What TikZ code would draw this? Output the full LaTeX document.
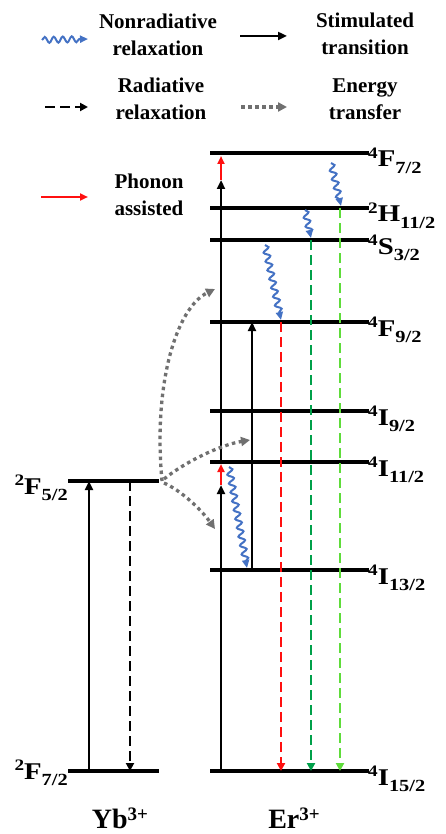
\documentclass[tikz,border=0pt]{standalone}
\usepackage{fontspec}
\setmainfont{Liberation Serif}
\usetikzlibrary{arrows.meta,decorations.pathmorphing}
\definecolor{WaveBlue}{HTML}{4472C4}
\definecolor{EmRed}{HTML}{FF1010}
\definecolor{EmGreen}{HTML}{00A04A}
\definecolor{EmLime}{HTML}{5EDC3A}
\definecolor{XferGray}{HTML}{707070}
\newcommand{\term}[3]{\scalebox{1.2}[1]{\raisebox{8.5pt}{\fontsize{16}{16}\selectfont #1}#2\raisebox{-6.5pt}{\fontsize{17}{17}\selectfont #3}}}
\newcommand{\ionname}[2]{#1\raisebox{8pt}{\fontsize{19}{19}\selectfont #2}}

\begin{document}
\begin{tikzpicture}[x=1pt,y=-1pt,
  level/.style={line width=4pt},
  stim/.style={-{Triangle[length=9pt,width=8pt]},line width=2.8pt},
  rad/.style={-{Triangle[length=8pt,width=8pt]},line width=2.8pt,dash pattern=on 10pt off 5pt},
  nonrad/.style={-{Triangle[length=8pt,width=7pt]},color=WaveBlue,line width=2pt,decorate,decoration={snake,amplitude=3pt,segment length=9pt,post length=5pt}},
  transfer/.style={-{Triangle[length=9pt,width=9pt]},color=XferGray,line width=3.3pt,dash pattern=on 3.5pt off 3.5pt},
  phonon/.style={-{Triangle[length=8pt,width=7pt]},color=EmRed,line width=2.4pt},
  lvllabel/.style={font=\fontsize{24}{28}\selectfont\bfseries,inner sep=0pt},
  legendtext/.style={font=\fontsize{21}{27}\selectfont\bfseries,align=center,inner sep=0pt},
  ionlabel/.style={font=\fontsize{28}{32}\selectfont\bfseries,inner sep=0pt}
]
\useasboundingbox (0,0) rectangle (445,834);
% legend
\coordinate (nrA) at (42,40);
\coordinate (nrB) at (88,39);
\coordinate (stA) at (240,36);
\coordinate (stB) at (287,36);
\coordinate (rdA) at (45,107);
\coordinate (rdB) at (88,107);
\coordinate (etA) at (241,107);
\coordinate (etB) at (287,107);
\coordinate (phA) at (41,197);
\coordinate (phB) at (88,197);
\draw[nonrad] (nrA) -- (nrB);
\draw[stim] (stA) -- (stB);
\draw[rad] (rdA) -- (rdB);
\draw[transfer] (etA) -- (etB);
\draw[phonon] (phA) -- (phB);
\node[legendtext] (nrText) at (158,35) {Nonradiative\\relaxation};
\node[legendtext] (stText) at (365,34) {Stimulated\\transition};
\node[legendtext] (rdText) at (161,99) {Radiative\\relaxation};
\node[legendtext] (etText) at (365,99) {Energy\\transfer};
\node[legendtext] (phText) at (149,195) {Phonon\\assisted};
% Yb levels
\coordinate (YbF52) at (68,481);
\coordinate (YbF72) at (68,771);
\draw[level] (YbF52) -- ++(91,0) coordinate (YbF52e);
\draw[level] (YbF72) -- ++(91,0);
\node[lvllabel,anchor=base east] (lbYb52) at (68,494) {\term{2}{F}{5/2}};
\node[lvllabel,anchor=base east] (lbYb72) at (68,779) {\term{2}{F}{7/2}};
% Er levels
\coordinate (ErF72) at (210,153);
\coordinate (ErH112) at (210,208);
\coordinate (ErS32) at (210,240);
\coordinate (ErF92) at (210,322);
\coordinate (ErI92) at (210,411);
\coordinate (ErI112) at (210,462);
\coordinate (ErI132) at (210,570);
\coordinate (ErI152) at (210,771);
\draw[level] (ErF72) -- ++(159,0);
\draw[level] (ErH112) -- ++(159,0);
\draw[level] (ErS32) -- ++(159,0);
\draw[level] (ErF92) -- ++(159,0);
\draw[level] (ErI92) -- ++(159,0);
\draw[level] (ErI112) -- ++(159,0);
\draw[level] (ErI132) -- ++(159,0);
\draw[level] (ErI152) -- ++(159,0);
\node[lvllabel,anchor=base west] (lbF72) at (368,167) {\term{4}{F}{7/2}};
\node[lvllabel,anchor=base west] (lbH112) at (368,222) {\term{2}{H}{11/2}};
\node[lvllabel,anchor=base west] (lbS32) at (368,254) {\term{4}{S}{3/2}};
\node[lvllabel,anchor=base west] (lbF92) at (368,336) {\term{4}{F}{9/2}};
\node[lvllabel,anchor=base west] (lbI92) at (368,425) {\term{4}{I}{9/2}};
\node[lvllabel,anchor=base west] (lbI112) at (368,476) {\term{4}{I}{11/2}};
\node[lvllabel,anchor=base west] (lbI132) at (368,584) {\term{4}{I}{13/2}};
\node[lvllabel,anchor=base west] (lbI152) at (368,785) {\term{4}{I}{15/2}};
% transitions
\coordinate (cYbUp) at (89,0);
\coordinate (cYbDown) at (130,0);
\coordinate (cEr1) at (221,0);
\coordinate (cEr2) at (252,0);
\coordinate (cRed) at (281,0);
\coordinate (cGreen) at (311,0);
\coordinate (cLime) at (340,0);
\coordinate (ph1a) at (221,485);
\coordinate (ph1b) at (221,464);
\coordinate (ph2a) at (221,180);
\coordinate (ph2b) at (221,156);
\draw[stim] (cYbUp |- YbF72) -- (cYbUp |- YbF52);
\draw[rad] (cYbDown |- YbF52) -- (cYbDown |- YbF72);
\draw[stim] (cEr1 |- ErI152) -- (ph1a);
\draw[phonon] (ph1a) -- (ph1b);
\draw[stim] (cEr1 |- ErI112) -- (ph2a);
\draw[phonon] (ph2a) -- (ph2b);
\draw[stim] (cEr2 |- ErI132) -- (cEr2 |- ErF92);
\draw[rad,color=EmRed] (cRed |- ErF92) -- (cRed |- ErI152);
\draw[rad,color=EmGreen] (cGreen |- ErS32) -- (cGreen |- ErI152);
\draw[rad,color=EmLime] (cLime |- ErH112) -- (cLime |- ErI152);
% nonradiative steps
\coordinate (w1a) at (229,467);
\coordinate (w1b) at (247,568);
\coordinate (w2a) at (265,245);
\coordinate (w2b) at (281,320);
\coordinate (w3a) at (305,210);
\coordinate (w3b) at (311,238);
\coordinate (w4a) at (331,163);
\coordinate (w4b) at (341,206);
\draw[nonrad] (w1a) -- (w1b);
\draw[nonrad] (w2a) -- (w2b);
\draw[nonrad] (w3a) -- (w3b);
\draw[nonrad] (w4a) -- (w4b);
% energy transfer
\coordinate (xfTop) at (215,289);
\coordinate (xfMid) at (250,440);
\coordinate (xfLow) at (215,529);
\draw[transfer] ([xshift=3pt]YbF52e) .. controls (153,385) and (176,308) .. (xfTop);
\draw[transfer] ([xshift=5pt,yshift=2pt]YbF52e) .. controls (185,462) and (220,445) .. (xfMid);
\draw[transfer] ([xshift=5pt,yshift=-2pt]YbF52e) .. controls (180,490) and (200,508) .. (xfLow);
% ions
\node[ionlabel] (yb) at (120,818) {\ionname{Yb}{3+}};
\node[ionlabel] (er) at (294,818) {\ionname{Er}{3+}};
\end{tikzpicture}
\end{document}
